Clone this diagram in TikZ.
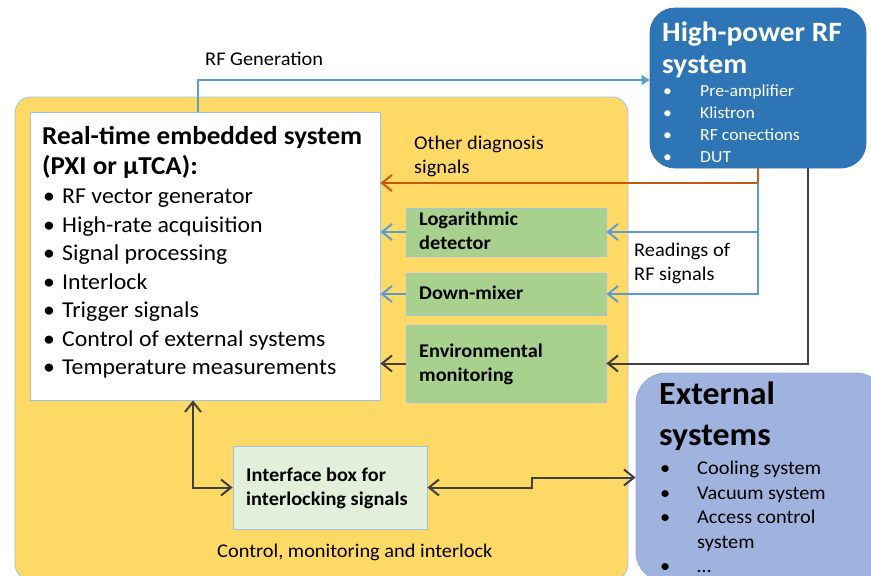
\documentclass[tikz,border=0pt]{standalone}
\usepackage{fontspec}
\setmainfont{Carlito}[FakeStretch=1.05]
\usepackage{tikz}
\usetikzlibrary{positioning, arrows.meta}

\definecolor{panelyellow}{HTML}{FFD966}
\definecolor{edgeblue}{HTML}{9DC3E6}
\definecolor{sigblue}{HTML}{5B9BD5}
\definecolor{sigorange}{HTML}{C55A11}
\definecolor{sigdark}{HTML}{404040}
\definecolor{hpblue}{HTML}{2E75B6}
\definecolor{modgreen}{HTML}{A9D18E}
\definecolor{ifgreen}{HTML}{E2EFDA}
\definecolor{extblue}{HTML}{A0B2DE}
\definecolor{extedge}{HTML}{8FAADC}

\begin{document}
\begin{tikzpicture}[
  x=1pt, y=-1pt,
  box/.style={draw=edgeblue, line width=0.8pt, inner sep=0pt},
  module/.style={box, fill=modgreen, minimum width=200pt},
  label/.style={anchor=north west, inner sep=0pt, align=left,
                font=\fontsize{19.4}{24}\selectfont},
  modlabel/.style={label, font=\fontsize{19.4}{24}\selectfont\bfseries},
  arrow/.style={-{Straight Barb[length=10pt,width=16pt]}, line width=2pt},
  twoway/.style={{Straight Barb[length=10pt,width=16pt]}-{Straight Barb[length=10pt,width=16pt]}, line width=2pt}
]
\path[use as bounding box, clip] (0,0) rectangle (871,576);

% control, monitoring and interlock panel
\filldraw[fill=panelyellow, draw=edgeblue, line width=0.8pt, rounded corners=16pt]
  (15,97) rectangle (628,580);

% boxes
\node[box, fill=white, minimum width=350pt, minimum height=288pt] (rt) at (205,256) {};
\node[box, draw=hpblue, fill=hpblue, rounded corners=25pt,
      minimum width=216pt, minimum height=160pt] (hp) at (758,88) {};
\node[module, minimum height=48pt] (logdet) at (506,232) {};
\node[module, minimum height=42pt] (mixer) at (506,294) {};
\node[module, minimum height=77pt] (env) at (506,363.5) {};
\node[box, fill=ifgreen, minimum width=194pt, minimum height=83pt] (iface) at (330,487.5) {};
\node[box, draw=extedge, fill=extblue, rounded corners=30pt,
      minimum width=250pt, minimum height=209pt] (ext) at (761,477.5) {};

% texts
\node[label, font=\fontsize{25.8}{30}\selectfont\bfseries] at (42,126)
  {Real-time embedded system\\(PXI or µTCA):};
\node[label, font=\fontsize{22.7}{28.5}\selectfont] at (43,189)
  {\makebox[19pt][l]{•}RF vector generator\\
   \makebox[19pt][l]{•}High-rate acquisition\\
   \makebox[19pt][l]{•}Signal processing\\
   \makebox[19pt][l]{•}Interlock\\
   \makebox[19pt][l]{•}Trigger signals\\
   \makebox[19pt][l]{•}Control of external systems\\
   \makebox[19pt][l]{•}Temperature measurements};
\node[label, text=white, font=\fontsize{28}{32}\selectfont\bfseries] at (662,22)
  {High-power RF\\system};
\node[label, text=white, font=\fontsize{16.9}{21.7}\selectfont] at (663,85)
  {\makebox[37pt][l]{•}Pre-amplifier\\
   \makebox[37pt][l]{•}Klistron\\
   \makebox[37pt][l]{•}RF conections\\
   \makebox[37pt][l]{•}DUT};
\node[label, font=\fontsize{32.3}{41}\selectfont\bfseries] at (659,382)
  {External\\systems};
\node[label, font=\fontsize{19.4}{24.5}\selectfont] at (660,461)
  {\makebox[37pt][l]{•}Cooling system\\
   \makebox[37pt][l]{•}Vacuum system\\
   \makebox[37pt][l]{•}Access control\\
   \hspace*{37pt}system\\
   \makebox[37pt][l]{•}…};
\node[label] at (205,52) {RF Generation};
\node[label] at (414,136) {Other diagnosis\\signals};
\node[label] at (634,243) {Readings of\\RF signals};
\node[modlabel] at (419,212) {Logarithmic\\detector};
\node[modlabel] at (419,286) {Down-mixer};
\node[modlabel] at (419,344) {Environmental\\monitoring};
\node[modlabel] at (246,468) {Interface box for\\interlocking signals};
\node[label] at (217,544) {Control, monitoring and interlock};

% connectors
\coordinate (split) at ([yshift=-15pt]hp.south);
\draw[sigblue, line width=1.8pt, -{Triangle[length=8pt,width=10pt]}]
  ([xshift=-7pt]rt.north) |- ([yshift=8pt]hp.west);
\draw[arrow, sigorange] (hp.south) |- ([yshift=73pt]rt.east);
\draw[arrow, sigblue] (split) |- (logdet.east);
\draw[arrow, sigblue] (split) |- (mixer.east);
\draw[arrow, sigblue] (logdet.west) -- (logdet.west -| rt.east);
\draw[arrow, sigblue] (mixer.west) -- (mixer.west -| rt.east);
\draw[arrow, sigdark] (env.west) -- (env.west -| rt.east);
\draw[arrow, sigdark] ([xshift=50pt]hp.south) |- (env.east);
\draw[twoway, sigdark] (iface.west) -| ([xshift=-12pt]rt.south);
\draw[twoway, sigdark] (iface.east) -- ++(105,0) |- (ext.west);
\end{tikzpicture}
\end{document}
